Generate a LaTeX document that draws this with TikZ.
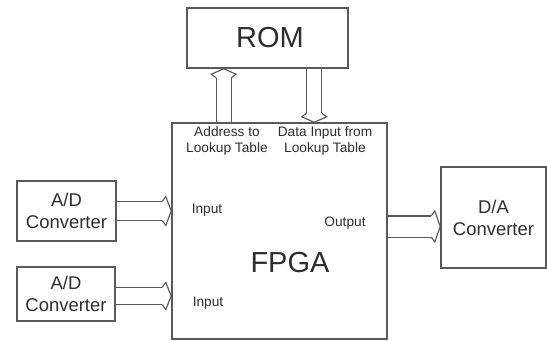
\documentclass[tikz,border=0pt]{standalone}
\usepackage{fontspec}
\setmainfont{Liberation Sans}
\usetikzlibrary{arrows.meta}
\definecolor{LineGray}{HTML}{5A5A5A}
\definecolor{TextGray}{HTML}{2E2E2E}
\newdimen\hollowside
\newdimen\hollowthin
\pgfdeclarearrow{
  name = Hollow,
  cache = false,
  parameters = {\the\pgfarrowlength,\the\pgfarrowwidth},
  setup code = {
    \pgfarrowssettipend{0pt}
    \pgfarrowssetlineend{-\pgfarrowlength}
    \pgfarrowssetbackend{-\pgfarrowlength}
    \pgfarrowssavethe\pgfarrowlength
    \pgfarrowssavethe\pgfarrowwidth
  },
  drawing code = {
    \hollowside=\pgflinewidth
    \advance\hollowside by \pgfinnerlinewidth
    \hollowside=.25\hollowside
    \hollowthin=\pgflinewidth
    \advance\hollowthin by -\pgfinnerlinewidth
    \hollowthin=.5\hollowthin
    \pgfsetlinewidth{\hollowthin}
    \pgfsetinnerlinewidth{0pt}
    \pgfsetmiterjoin
    \pgfpathmoveto{\pgfqpoint{-\pgfarrowlength}{\hollowside}}
    \pgfpathlineto{\pgfqpoint{-.6\pgfarrowlength}{.5\pgfarrowwidth}}
    \pgfpathlineto{\pgfpointorigin}
    \pgfpathlineto{\pgfqpoint{-.6\pgfarrowlength}{-.5\pgfarrowwidth}}
    \pgfpathlineto{\pgfqpoint{-\pgfarrowlength}{-\hollowside}}
    \pgfusepathqstroke
  },
  defaults = {length = 3mm, width = 6mm}
}

\begin{document}
\begin{tikzpicture}[
  block/.style={rectangle, draw=LineGray, line width=0.9pt, align=center, fill=white, text=TextGray, inner sep=0pt, font=\fontsize{10.5}{12.5}\selectfont},
  title/.style={text=TextGray, inner sep=0pt, font=\fontsize{16.5}{18}\selectfont},
  tag/.style={align=center, text=TextGray, inner sep=0pt, font=\fontsize{7.8}{9.2}\selectfont},
  hollow/.style 2 args={draw=LineGray, line width=0.65pt, double, double distance=#1, -{Hollow[length=0.18cm, width=#2]}}
]
\useasboundingbox (0,0) rectangle (10.94,6.8);

\node[block, minimum width=3.22cm, minimum height=1.2cm] (rom) at (5.35,6.04) {};
\node[title] (romlabel) at (5.4,6.04) {ROM};
\node[block, minimum width=4.3cm, minimum height=4.32cm] (fpga) at (5.59,2.18) {};
\node[block, minimum width=1.98cm, minimum height=1.2cm] (adone) at (1.33,2.58) {A/D\\Converter};
\node[block, minimum width=1.96cm, minimum height=1.08cm] (adtwo) at (1.32,0.92) {A/D\\Converter};
\node[block, minimum width=2.1cm, minimum height=2.02cm] (da) at (9.87,2.45) {D/A\\Converter};

\node[tag] (addr) at (4.54,3.98) {Address to\\Lookup Table};
\node[tag] (data) at (6.5,3.98) {Data Input from\\Lookup Table};
\node[tag] (inone) at (4.14,2.6) {Input};
\node[tag] (intwo) at (4.16,0.74) {Input};
\node[tag] (outp) at (6.9,2.34) {Output};
\node[title] (fpgalabel) at (5.8,1.54) {FPGA};

\draw[hollow={0.28cm}{0.5cm}] ([xshift=1.05cm]fpga.north west) -- ([xshift=1.05cm]fpga.north west |- rom.south);
\draw[hollow={0.28cm}{0.5cm}] ([xshift=2.86cm]fpga.north west |- rom.south) -- ([xshift=2.86cm]fpga.north west);
\draw[hollow={0.36cm}{0.58cm}] (adone.east) -- (adone.east -| fpga.west);
\draw[hollow={0.32cm}{0.54cm}] ([yshift=-0.04cm]adtwo.east) -- ([yshift=-0.04cm]adtwo.east -| fpga.west);
\draw[hollow={0.4cm}{0.62cm}] ([yshift=0.09cm]fpga.east) -- ([yshift=0.09cm]fpga.east -| da.west);
\end{tikzpicture}
\end{document}
